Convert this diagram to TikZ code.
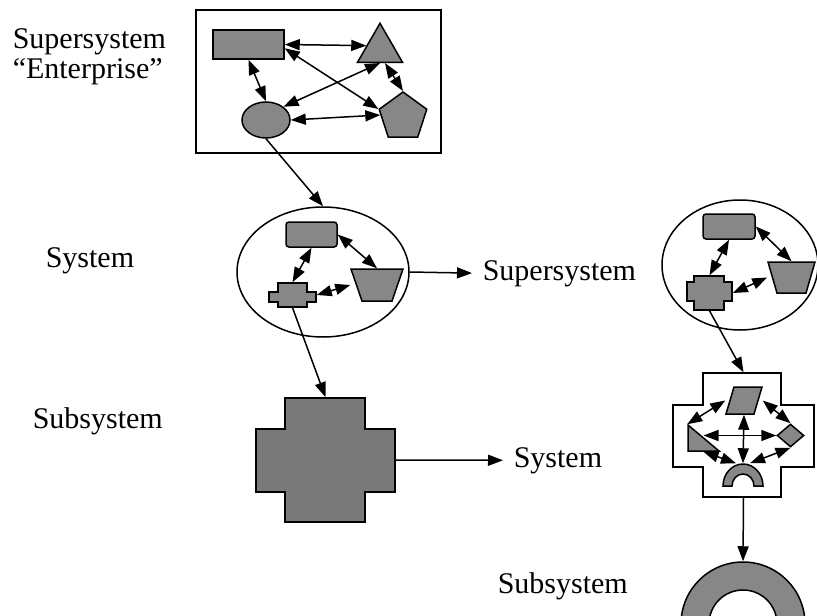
\documentclass[tikz,border=0pt]{standalone}
\usepackage{fontspec}
\setmainfont{Liberation Serif}
\usetikzlibrary{shapes.geometric,arrows.meta}
\definecolor{stipple}{RGB}{135,135,135}

\begin{document}
\begin{tikzpicture}[x=1pt,y=-1pt,line width=1.5pt,
  part/.style={draw,fill=stipple,inner sep=0pt},
  hole/.style={inner sep=0pt},
  link/.style={{Triangle[length=15pt,width=11pt]}-{Triangle[length=15pt,width=11pt]}},
  feed/.style={-{Triangle[length=15pt,width=11pt]}},
  tolabel/.style={feed,shorten >=10pt},
  lbl/.style={inner sep=0pt,anchor=base west,font=\fontsize{30}{32}\selectfont}]
\path[use as bounding box] (0,0) rectangle (817,616);
\clip (0,0) rectangle (817,616);

\node[lbl] (supL) at (12,48) {Supersystem};
\node[lbl] (entL) at (12,78) {“Enterprise”};
\node[lbl] (sysL) at (45,267) {System};
\node[lbl] (subL) at (32,428) {Subsystem};
\node[lbl] (supM) at (482,280) {Supersystem};
\node[lbl] (sysM) at (513,467) {System};
\node[lbl] (subM) at (497,593) {Subsystem};

\node[draw,hole,minimum width=245pt,minimum height=143pt] (ent) at (318.5,81.5) {};
\node[part,minimum width=71pt,minimum height=29pt] (eRect) at (248.5,44.5) {};
\node[part,regular polygon,regular polygon sides=3,minimum size=52pt] (eTri) at (380,49.3) {};
\node[part,regular polygon,regular polygon sides=5,minimum size=50pt] (ePent) at (403,117) {};
\node[part,ellipse,minimum width=48pt,minimum height=36pt] (eEll) at (266,120) {};
\draw[link] (eRect.east) -- (eTri.165);
\draw[link] (eRect.-6) -- (ePent.corner 2);
\draw[link] (eRect.south) -- (eEll.north);
\draw[link] (eTri.side 2) -- (eEll.north east);
\draw[link] (eTri.-70) -- (ePent.corner 1);
\draw[link] (eEll.east) -- (ePent.175);

\node[draw,ellipse,hole,minimum width=172pt,minimum height=130pt] (sys) at (323,272) {};
\node[part,rounded corners=3pt,minimum width=51pt,minimum height=25pt] (sRect) at (311.5,234.5) {};
\node[hole,minimum width=52pt,minimum height=32pt] (sTrap) at (377,285) {};
\draw[fill=stipple] (351,269) -- (403,269) -- (392,301) -- (362,301) -- cycle;
\node[hole,minimum width=47pt,minimum height=24pt] (sCross) at (292.5,295) {};
\draw[fill=stipple] (278,283) -- (307,283) -- (307,292) -- (316,292) -- (316,302) -- (307,302)
  -- (307,307) -- (278,307) -- (278,302) -- (269,302) -- (269,292) -- (278,292) -- cycle;
\draw[link] (sRect.south) -- (sCross.north);
\draw[link] (sRect.east) -- (sTrap.north);
\draw[link] (sCross.east) -- (sTrap.west);
\draw[feed] (eEll.south) -- (sys.north);
\draw[tolabel] (sys.east) -- (supM.west);

\node[hole,minimum width=139pt,minimum height=124pt] (bigX) at (325.5,460) {};
\draw[fill=stipple!90!black] (285,398) -- (365,398) -- (365,429) -- (395,429) -- (395,492) -- (365,492)
  -- (365,522) -- (285,522) -- (285,492) -- (256,492) -- (256,429) -- (285,429) -- cycle;
\draw[feed] (sCross.south) -- (bigX.north);
\draw[tolabel] (bigX.east) -- (sysM.west);

\node[draw,ellipse,hole,minimum width=156pt,minimum height=130pt] (rSys) at (740,265) {};
\node[part,rounded corners=3pt,minimum width=52pt,minimum height=25pt] (rRect) at (729,226.5) {};
\node[hole,minimum width=47pt,minimum height=31pt] (rTrap) at (791.5,277.5) {};
\draw[fill=stipple] (768,262) -- (815,262) -- (806,293) -- (777,293) -- cycle;
\node[hole,minimum width=45pt,minimum height=34pt] (rCross) at (709.5,293) {};
\draw[fill=stipple] (694,276) -- (724,276) -- (724,282) -- (732,282) -- (732,301) -- (724,301)
  -- (724,310) -- (694,310) -- (694,301) -- (687,301) -- (687,282) -- (694,282) -- cycle;
\draw[link] (rRect.south) -- (rCross.north);
\draw[link] (rRect.east) -- (rTrap.north);
\draw[link] (rCross.east) -- (rTrap.west);

\node[hole,minimum width=141pt,minimum height=124pt] (rBox) at (743.5,435) {};
\draw (703,373) -- (781,373) -- (781,405) -- (814,405) -- (814,467) -- (781,467)
  -- (781,497) -- (703,497) -- (703,467) -- (673,467) -- (673,405) -- (703,405) -- cycle;
\node[hole,minimum width=36pt,minimum height=27pt] (rPar) at (744,400.5) {};
\draw[fill=stipple] (734,387) -- (762,387) -- (754,414) -- (726,414) -- cycle;
\node[hole,minimum width=31pt,minimum height=26pt] (rTri) at (703.5,438) {};
\draw[fill=stipple] (688,425) -- (688,451) -- (719,451) -- cycle;
\node[part,diamond,minimum width=27pt,minimum height=23pt] (rDia) at (790.5,435.5) {};
\node[hole,minimum width=40pt,minimum height=22pt] (rArch) at (743,475) {};
\draw[fill=stipple] (723,486) arc[start angle=180,end angle=360,x radius=20,y radius=22]
  -- (754,486) arc[start angle=0,end angle=-180,x radius=11,y radius=12] -- cycle;
\draw[link] (rPar.west) -- (rTri.north west);
\draw[link] (rPar.east) -- (rDia.north);
\draw[link] (rTri.center |- rDia.west) -- (rDia.west);
\draw[link] (rPar.south) -- (rArch.north);
\draw[link] (rTri.south) -- ([xshift=-7pt]rArch.north);
\draw[link] (rDia.south) -- ([xshift=7pt]rArch.north);
\draw[feed] (rCross.south) -- (rBox.north);

\node[part,circle,minimum size=124pt] (rDonut) at (743,624) {};
\draw[fill=white] (rDonut.center) circle[radius=34];
\draw[feed] (rBox.south) -- (rDonut.north);
\end{tikzpicture}
\end{document}
